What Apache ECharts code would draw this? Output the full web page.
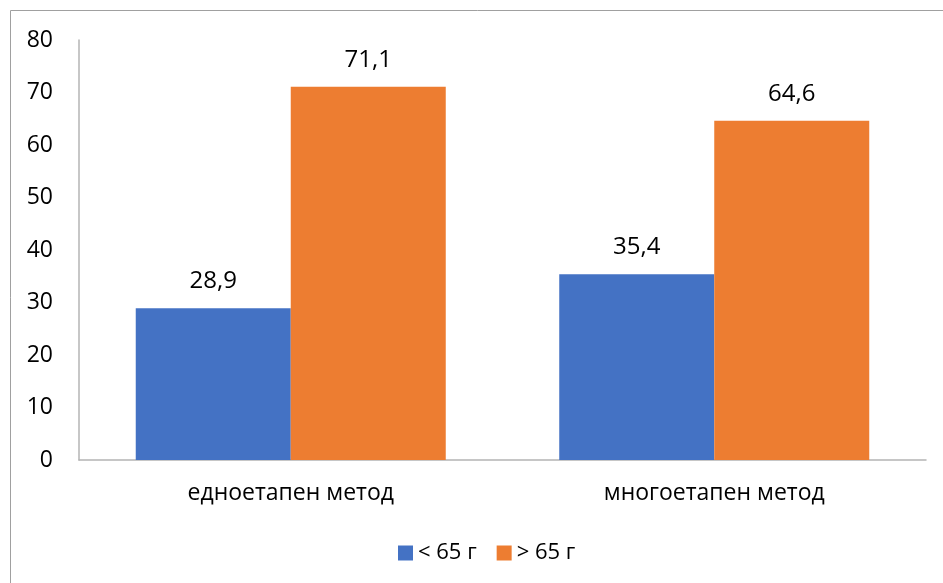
<!DOCTYPE html>
<html><head><meta charset="utf-8">
<script src="https://cdn.jsdelivr.net/npm/echarts@6/dist/echarts.min.js"></script>
<style>html,body{margin:0;padding:0;background:#fff}#c{width:943px;height:583px}</style>
</head><body><div id="c"></div>
<script>
const categories = ['едноетапен метод', 'многоетапен метод'];
const seriesNames = ['< 65 г', '> 65 г'];
const under65 = [28.9, 35.4];
const over65 = [71.1, 64.6];
const yTicks = [0, 80, 10];

const chart = echarts.init(document.getElementById('c'));
const font = 'Open Sans';
const fmt = p => String(p.value).replace('.', ',');
chart.setOption({
  animation: false,
  textStyle: { fontFamily: font },
  graphic: [{ type: 'rect', shape: { x: 10.5, y: 10.5, width: 1000, height: 1000 }, style: { fill: 'none', stroke: '#a0a0a0', lineWidth: 1 }, silent: true }],
  grid: { left: 79, right: 17, top: 40, bottom: 123 },
  legend: {
    top: 537, left: 393, itemWidth: 15, itemHeight: 15, itemGap: 20,
    icon: 'rect',
    textStyle: { fontSize: 22, color: '#000', fontFamily: font },
    data: seriesNames
  },
  xAxis: {
    type: 'category', data: categories,
    axisLine: { lineStyle: { color: '#b4b4b4', width: 1.5 } },
    axisTick: { show: false },
    axisLabel: { fontSize: 23, color: '#000', margin: 22 }
  },
  yAxis: {
    type: 'value', min: yTicks[0], max: yTicks[1], interval: yTicks[2],
    axisLine: { show: true, lineStyle: { color: '#b4b4b4', width: 1.5 } },
    splitLine: { show: false },
    axisTick: { show: false },
    axisLabel: { fontSize: 23, color: '#000', margin: 26 }
  },
  series: [
    { name: seriesNames[0], type: 'bar', data: under65, barGap: '0%', barCategoryGap: '26.8%',
      itemStyle: { color: '#4472C4' },
      label: { show: true, position: 'top', distance: 15, fontSize: 24, color: '#000', formatter: fmt } },
    { name: seriesNames[1], type: 'bar', data: over65,
      itemStyle: { color: '#ED7D31' },
      label: { show: true, position: 'top', distance: 15, fontSize: 24, color: '#000', formatter: fmt } }
  ]
});
</script></body></html>
